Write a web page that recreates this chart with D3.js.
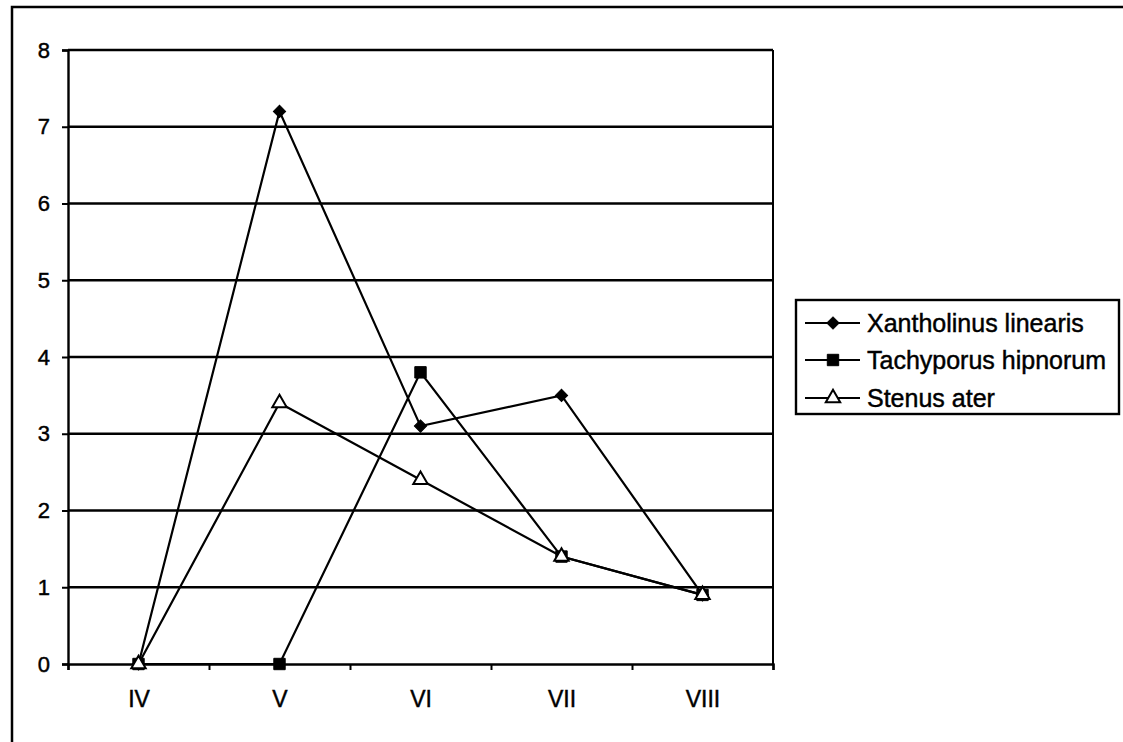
<!DOCTYPE html>
<html>
<head>
<meta charset="utf-8">
<script src="https://cdn.jsdelivr.net/npm/d3@7"></script>
<style>
  html, body { margin: 0; padding: 0; background: #fff; }
  svg { display: block; }
  text { font-family: "Liberation Sans", Arial, sans-serif; fill: #000; stroke: #000; stroke-width: 0.45px; }
</style>
</head>
<body>
<svg id="chart" width="1123" height="742"></svg>
<script>
// Monthly catches (April–August)
const months = ["IV", "V", "VI", "VII", "VIII"];
const xantholinus = [0, 7.2, 3.1, 3.5, 0.9];
const tachyporus = [0, 0, 3.8, 1.4, 0.9];
const stenus = [0, 3.4, 2.4, 1.4, 0.9];
const yTicks = [0, 1, 2, 3, 4, 5, 6, 7, 8];
const seriesNames = ["Xantholinus linearis", "Tachyporus hipnorum", "Stenus ater"];

const series = [
  { name: seriesNames[0], values: xantholinus, marker: "diamond" },
  { name: seriesNames[1], values: tachyporus, marker: "square" },
  { name: seriesNames[2], values: stenus, marker: "triangle" }
];

const svg = d3.select("#chart");

// outer chart frame
svg.append("rect")
  .attr("x", 12).attr("y", 7)
  .attr("width", 1125).attr("height", 750)
  .attr("fill", "none").attr("stroke", "#000").attr("stroke-width", 2.5);

const plot = { left: 68, right: 773, top: 50, bottom: 664 };

const x = d3.scalePoint().domain(months).range([plot.left, plot.right]).padding(0.5);
const xEdges = d3.scaleLinear().domain([0, months.length]).range([plot.left, plot.right]);
const y = d3.scaleLinear().domain([0, 8]).range([plot.bottom, plot.top]);

// horizontal gridlines
svg.append("g")
  .selectAll("line")
  .data(yTicks.filter(d => d > 0))
  .join("line")
  .attr("x1", plot.left).attr("x2", plot.right)
  .attr("y1", d => y(d)).attr("y2", d => y(d))
  .attr("stroke", "#000").attr("stroke-width", 2.4);

// right edge of the plot area
svg.append("line")
  .attr("x1", plot.right).attr("x2", plot.right)
  .attr("y1", plot.top).attr("y2", plot.bottom)
  .attr("stroke", "#000").attr("stroke-width", 2);

// y axis
const yAxis = svg.append("g")
  .attr("transform", `translate(${plot.left},0)`)
  .call(d3.axisLeft(y).tickValues(yTicks).tickSize(6).tickPadding(12).tickFormat(d3.format("d")));
yAxis.select(".domain").attr("stroke", "#000").attr("stroke-width", 2.4);
yAxis.selectAll(".tick line").attr("stroke", "#000").attr("stroke-width", 2);
yAxis.selectAll("text").style("font-size", "22px").attr("fill", "#000");

// x axis: boundary ticks
const xTickAxis = svg.append("g")
  .attr("transform", `translate(0,${plot.bottom})`)
  .call(d3.axisBottom(xEdges).tickValues(d3.range(months.length + 1)).tickSize(6).tickFormat(""));
xTickAxis.select(".domain").attr("stroke", "#000").attr("stroke-width", 2.4);
xTickAxis.selectAll(".tick line").attr("stroke", "#000").attr("stroke-width", 2);

// x axis: category labels
const xLabelAxis = svg.append("g")
  .attr("transform", `translate(0,${plot.bottom})`)
  .call(d3.axisBottom(x).tickSize(0).tickPadding(27));
xLabelAxis.select(".domain").remove();
xLabelAxis.selectAll("text").style("font-size", "23px").attr("fill", "#000");

// diamond = square turned 45°
const symbolType = {
  diamond: d3.symbolSquare,
  square: d3.symbolSquare,
  triangle: d3.symbolTriangle
};
const symbolSize = { diamond: 75, square: 130, triangle: 90 };

function drawMarker(sel, marker) {
  sel.attr("d", d3.symbol().type(symbolType[marker]).size(symbolSize[marker]))
    .attr("fill", marker === "triangle" ? "#fff" : "#000")
    .attr("stroke", "#000")
    .attr("stroke-width", marker === "triangle" ? 2 : 1);
}

const line = d3.line().x((d, i) => x(months[i])).y(d => y(d));

series.forEach(s => {
  const g = svg.append("g");
  g.append("path")
    .attr("d", line(s.values))
    .attr("fill", "none").attr("stroke", "#000").attr("stroke-width", 2.2);
  g.selectAll("path.marker")
    .data(s.values)
    .join("path")
    .attr("class", "marker")
    .attr("transform", (d, i) => `translate(${x(months[i])},${y(d)})` + (s.marker === "diamond" ? " rotate(45)" : ""))
    .call(drawMarker, s.marker);
});

// legend
const legend = svg.append("g");
legend.append("rect")
  .attr("x", 796).attr("y", 300)
  .attr("width", 323).attr("height", 114)
  .attr("fill", "#fff").attr("stroke", "#000").attr("stroke-width", 2.4);

const legendRows = [323, 360, 398];
series.forEach((s, i) => {
  const row = legend.append("g").attr("transform", `translate(0,${legendRows[i]})`);
  row.append("line")
    .attr("x1", 805).attr("x2", 860).attr("y1", 0).attr("y2", 0)
    .attr("stroke", "#000").attr("stroke-width", 2.2);
  row.append("path")
    .attr("transform", "translate(833,0)" + (s.marker === "diamond" ? " rotate(45)" : ""))
    .call(drawMarker, s.marker);
  row.append("text")
    .attr("x", 867).attr("y", 0).attr("dy", "0.35em")
    .style("font-size", "25px")
    .text(s.name);
});
</script>
</body>
</html>
